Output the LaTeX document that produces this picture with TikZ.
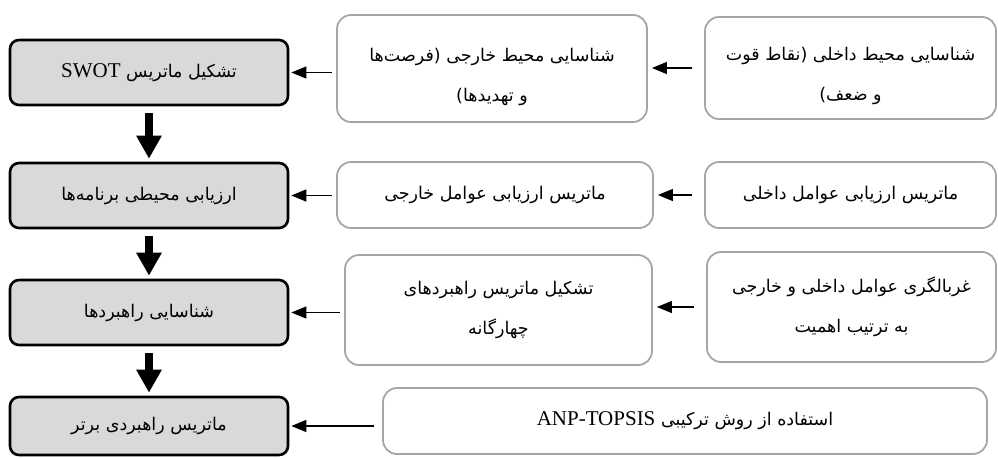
\documentclass[tikz,border=0pt]{standalone}
\usepackage{fontspec}
\setmainfont{Liberation Serif}
\newfontfamily\arabicfont[Script=Arabic]{DejaVu Sans}
\TeXXeTstate=1
\usetikzlibrary{arrows.meta}

\newcommand{\rline}[1]{\beginR #1\endR}
\newcommand{\lword}[1]{\beginL{\rmfamily\fontsize{21}{30}\selectfont #1}\endL}

\tikzset{
	stage/.style={draw=black, line width=2.6pt, fill=black!15, rounded corners=9pt,
		minimum width=278pt, minimum height=65pt, inner sep=0pt,
		font=\arabicfont\fontsize{17.5}{40}\selectfont},
	input/.style={draw=black!35, line width=1.8pt, rounded corners=14pt, inner sep=0pt,
		align=center, font=\arabicfont\fontsize{17.5}{40}\selectfont},
	feed/.style={line width=1.3pt, -{Triangle[length=15pt,width=12pt]}},
	flow/.style={line width=8pt, -{Triangle[length=23pt,width=24pt]}, shorten <=7pt, shorten >=3pt}
}

\begin{document}
\begin{tikzpicture}[x=1pt,y=-1pt]
	\useasboundingbox (0,0) rectangle (998,458);

	\node[stage] (L1) at (149,72.5) {\rline{تشکیل ماتریس \lword{SWOT}}};
	\node[stage] (L2) at (149,195.5) {\rline{ارزیابی محیطی برنامه‌ها}};
	\node[stage] (L3) at (149,312.5) {\rline{شناسایی راهبردها}};
	\node[stage, minimum height=58pt] (L4) at (149,426) {\rline{ماتریس راهبردی برتر}};

	\node[input, minimum width=310pt, minimum height=107pt] (M1) at (492,68.5)
		{\rline{\rule{0pt}{30pt}شناسایی محیط خارجی (فرصت‌ها}\\\rline{و تهدیدها)}};
	\node[input, minimum width=316pt, minimum height=66pt] (M2) at (495,195)
		{\rline{ماتریس ارزیابی عوامل خارجی}};
	\node[input, minimum width=307pt, minimum height=110pt] (M3) at (498.5,310)
		{\rline{تشکیل ماتریس راهبردهای}\\\rline{چهارگانه}};
	\node[input, minimum width=604pt, minimum height=66pt] (M4) at (685,421)
		{\rline{استفاده از روش ترکیبی \lword{ANP-TOPSIS}}};

	\node[input, minimum width=291pt, minimum height=102pt] (R1) at (850.5,68)
		{\rline{\rule{0pt}{30pt}شناسایی محیط داخلی (نقاط قوت}\\\rline{و ضعف)}};
	\node[input, minimum width=291pt, minimum height=66pt] (R2) at (850.5,195)
		{\rline{ماتریس ارزیابی عوامل داخلی}};
	\node[input, minimum width=289pt, minimum height=110pt] (R3) at (851.5,307)
		{\rline{غربالگری عوامل داخلی و خارجی}\\\rline{به ترتیب اهمیت}};

	\draw[flow] (L1) -- (L2);
	\draw[flow] (L2) -- (L3);
	\draw[flow] (L3) -- (L4);

	\draw[feed, shorten <=4pt, shorten >=2pt] (M1.west |- L1.east) -- (L1.east);
	\draw[feed, shorten <=4pt, shorten >=2pt] (M2.west |- L2.east) -- (L2.east);
	\draw[feed, shorten <=4pt, shorten >=2pt] (M3.west |- L3.east) -- (L3.east);
	\draw[feed, shorten <=8pt, shorten >=2pt] (M4.west |- L4.east) -- (L4.east);

	\draw[feed, shorten <=12pt, shorten >=4pt] (R1.west) -- (R1.west -| M1.east);
	\draw[feed, shorten <=12pt, shorten >=4pt] (R2.west) -- (R2.west -| M2.east);
	\draw[feed, shorten <=12pt, shorten >=4pt] (R3.west) -- (R3.west -| M3.east);
\end{tikzpicture}
\end{document}
